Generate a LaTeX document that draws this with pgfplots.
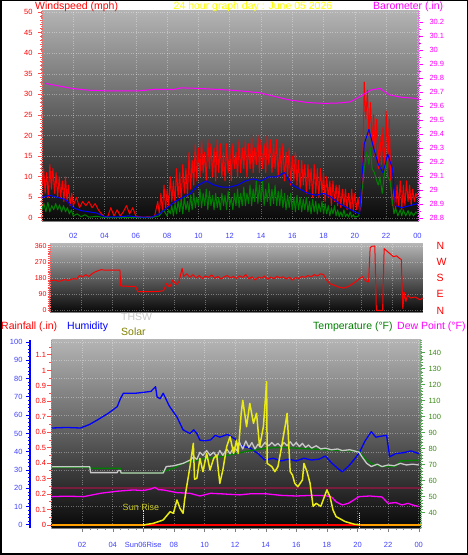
\documentclass[border=0pt]{standalone}
\usepackage{fontspec}
\setmainfont{Liberation Sans}
\usepackage{pgfplots}
\pgfplotsset{compat=1.18}
\definecolor{cRed}{RGB}{255,0,0}
\definecolor{cBlue}{RGB}{0,0,255}
\definecolor{cGreen}{RGB}{0,128,0}
\definecolor{cMag}{RGB}{255,0,255}
\definecolor{cTick}{RGB}{64,64,255}
\definecolor{cYel}{RGB}{255,255,0}
\definecolor{cSolar}{RGB}{235,235,20}
\definecolor{cSunTxt}{RGB}{200,200,40}
\definecolor{cOlive}{RGB}{128,128,0}
\definecolor{cThsw}{RGB}{200,200,200}
\definecolor{cOrange}{RGB}{255,160,0}
\definecolor{cMaroon}{RGB}{120,30,60}
\definecolor{cTempLab}{RGB}{60,140,20}
\definecolor{bgTop}{RGB}{180,180,180}
\definecolor{bgBot}{RGB}{8,8,8}
\newcommand{\tickfont}{\fontsize{7.5}{8}\selectfont}
\newcommand{\titlefont}{\fontsize{10.5}{12}\selectfont}
\pgfplotsset{
  /pgf/number format/assume math mode=true,
  wpanel/.style={scale only axis, xmin=0, ticklabel style={font=\tickfont},
    tick align=outside, major tick length=4pt, minor tick length=2pt,
    scaled y ticks=false, every axis plot/.append style={line join=round}},
  wbg/.style={axis background/.style={shade, top color=bgTop, bottom color=bgBot},
    grid=major, grid style={white, opacity=0.35, dotted, line width=0.5pt}},
}
\begin{document}
\begin{tikzpicture}
\useasboundingbox (0,0) rectangle (468pt,555pt);
\fill[white] (0,0) rectangle (468pt,555pt);

% ---------------- TOP PANEL: wind speed ----------------
\begin{axis}[wpanel, wbg, at={(42pt,334pt)}, anchor=south west,
  width=377pt, height=211pt, xmax=24.1, ymin=-0.73, ymax=50.49,
  axis x line*=bottom, axis y line*=left,
  x axis line style={draw=gray},
  y axis line style={draw=red!60!white, densely dotted, line width=1.2pt},
  xtick={2,4,...,24}, xticklabels={02,04,06,08,10,12,14,16,18,20,22,00},
  xticklabel style={cTick, yshift=-5pt}, x tick style={draw=none},
  ytick={0,5,...,50}, yticklabel style={red, xshift=-2pt},
  y tick style={draw=red!70!white, line width=1pt}, minor y tick num=4]
\addplot[cRed, line width=1pt] coordinates {(0,8)(0.1,12)(0.2,6)(0.3,11)(0.4,5)(0.5,13)(0.6,7)(0.7,12)(0.8,6)(0.9,11)(1.0,5)(1.1,10)(1.2,5)(1.3,9)(1.4,4)(1.5,10)(1.6,4)(1.7,8)(1.8,3)(1.9,6)(2.0,3)(2.2,5)(2.4,2.5)(2.6,4)(2.8,3)(3.0,4)(3.2,2.5)(3.4,3.5)(3.6,2)(3.8,1)(4.0,0.3)(4.2,0.3)(4.4,2.5)(4.6,0.5)(4.8,2)(5.0,0.5)(5.2,1.5)(5.4,3)(5.6,1)(5.8,2.5)(6.0,0.5)(6.2,0.3)(6.4,0.2)(6.6,0.2)(6.8,0.3)(7.0,0.2)(7.2,0.5)
(7.4,4)(7.5,1)(7.6,6)(7.7,1.5)(7.8,8)(7.9,2)(8.0,7)(8.1,3)(8.2,10)(8.3,4)(8.4,9)(8.5,3.5)(8.6,12)(8.7,5)(8.8,11)(8.9,4)(9.0,13)(9.1,6)(9.2,12)(9.3,5)(9.4,16)(9.5,7)(9.6,14)(9.7,8)(9.8,18)(9.9,9)(10.0,17)(10.1,10)(10.2,19)(10.3,11)(10.4,16)(10.5,9)(10.6,19)(10.7,12)(10.8,18)(10.9,10)(11.0,17)(11.1,9)(11.2,19)(11.3,11)(11.4,18)(11.5,10)(11.6,16)(11.7,9)(11.8,18)(11.9,11)(12.0,17)(12.1,9)(12.2,18)(12.3,12)(12.4,16)(12.5,10)(12.6,19)(12.7,11)(12.8,17)(12.9,12)(13.0,19)(13.1,10)(13.2,18)(13.3,12)(13.4,20)(13.5,11)(13.6,17)(13.7,13)(13.8,20)(13.9,11)(14.0,19)(14.1,12)(14.2,18)(14.3,11)(14.4,20)(14.5,13)(14.6,19)(14.7,11)(14.8,18)(14.9,12)(15.0,19)(15.1,10)(15.2,17)(15.3,11)(15.4,18)(15.5,9)(15.6,16)(15.7,10)(15.8,17)(15.9,8)(16.0,15)(16.1,9)(16.2,16)(16.3,8)(16.4,14)(16.5,7)(16.6,14)(16.7,8)(16.8,13)(16.9,6)(17.0,13)(17.1,7)(17.2,12)(17.3,5)(17.4,13)(17.5,6)(17.6,12)(17.7,5)(17.8,12)(17.9,6)(18.0,11)(18.1,4)(18.2,10)(18.3,5)(18.4,9)(18.5,3)(18.6,9)(18.7,4)(18.8,8)(18.9,3)(19.0,8)(19.1,2.5)(19.2,7)(19.3,3)(19.4,7)(19.5,2)(19.6,6)(19.7,2)(19.8,7)(19.9,1.5)(20.0,6)(20.1,2)(20.2,5)(20.3,1.5)(20.4,3)
(20.5,10)(20.6,33)(20.7,24)(20.8,31)(20.9,20)(21.0,28)(21.1,18)(21.2,25)(21.3,15)(21.4,24)(21.5,12)(21.6,20)(21.7,13)(21.8,22)(21.9,11)(22.0,26)(22.1,12)(22.2,24)(22.3,8)(22.4,3)(22.5,7)(22.6,2)(22.7,8)(22.8,3)(22.9,9)(23.0,2)(23.1,8)(23.2,3)(23.3,9)(23.4,4)(23.5,8)(23.6,3)(23.7,7)(23.8,4)(23.9,6)(24.0,5)};
\addplot[cGreen, line width=1pt] coordinates {(0,2)(0.125,3.5)(0.25,1.5)(0.375,3.8)(0.5,1.5)(0.625,3)(0.75,2)(0.875,3.5)(1,2)(1.125,3.2)(1.25,1.5)(1.375,3)(1.5,1.5)(1.625,2.5)(1.75,1)(1.875,2)(2,0.5)(2.25,1)(2.5,0.3)(2.75,0.8)(3,0.2)(3.5,0.4)(4,0.1)(5,0.1)(6,0.1)(7,0.1)(7.5,0.5)(7.75,2)
(8.0,0.5)(8.1,2)(8.2,1)(8.3,3)(8.4,0.5)(8.5,3.5)(8.6,1)(8.7,4)(8.8,1.5)(8.9,4.5)(9.0,1)(9.1,5)(9.2,2)(9.3,4)(9.4,1.5)(9.5,5.5)(9.6,2)(9.7,6)(9.8,2.5)(9.9,5)(10.0,3)(10.1,7)(10.2,2.5)(10.3,6)(10.4,3)(10.5,7)(10.6,2)(10.7,6.5)(10.8,3)(10.9,5.5)(11.0,2)(11.1,6)(11.2,2.5)(11.3,5)(11.4,2)(11.5,6)(11.6,3)(11.7,5.5)(11.8,2)(11.9,6.5)(12.0,3)(12.1,5)(12.2,2)(12.3,6)(12.4,3)(12.5,7)(12.6,2.5)(12.7,6)(12.8,3)(12.9,7.5)(13.0,3)(13.1,6)(13.2,3.5)(13.3,8)(13.4,3)(13.5,7)(13.6,4)(13.7,9)(13.8,3.5)(13.9,8)(14.0,4)(14.1,9)(14.2,3)(14.3,7)(14.4,4)(14.5,8.5)(14.6,3)(14.7,7)(14.8,3.5)(14.9,8)(15.0,3)(15.1,6.5)(15.2,3)(15.3,7)(15.4,2.5)(15.5,6)(15.6,2)(15.7,5.5)(15.8,2.5)(15.9,6)(16.0,2)(16.1,5)(16.2,1.5)(16.3,5.5)(16.4,2)(16.5,5)(16.6,1.5)(16.7,4.5)(16.8,2)(16.9,5)(17.0,1.5)(17.1,4)(17.2,1)(17.3,4.5)(17.4,1.5)(17.5,4)(17.6,1)(17.7,3.5)(17.8,1.5)(17.9,4)(18.0,1)(18.1,3.5)(18.2,1)(18.3,3)(18.4,0.5)(18.5,2.5)(18.6,1)(18.7,3)(18.8,0.5)(18.9,2)(19.0,0.3)(19.1,1.5)(19.2,0.3)(19.3,2)(19.4,0.3)(19.5,1)(19.6,0.2)(19.7,1.5)(19.8,0.2)(19.9,0.8)(20.0,0.2)(20.25,0.5)
(20.5,8)(20.6,12)(20.75,16)(20.9,13)(21,17)(21.1,12)(21.25,11)(21.4,9)(21.5,8)(21.6,10)(21.75,6)(21.9,11)(22,14)(22.1,10)(22.25,9)(22.4,4)(22.5,1)(22.6,2.5)(22.75,0.5)(22.9,2)(23,0.5)(23.1,2)(23.25,0.5)(23.4,1.8)(23.5,0.5)(23.6,1.5)(23.75,0.5)(23.9,1.5)(24,1)};
\addplot[cBlue, line width=1pt] coordinates {(0,5)(0.5,5.5)(1,5)(1.5,4.5)(2,2.5)(2.5,1.8)(3,1.5)(3.5,1.2)(4,0.3)(4.5,0.3)(5,0.3)(5.5,0.5)(6,0.3)(6.5,0.2)(7,0.2)(7.5,1)(8,2.5)(8.5,4)(9,5)(9.5,6)(10,8)(10.5,9)(11,8)(11.5,7.5)(12,7.5)(12.5,8)(13,9)(13.5,9.5)(14,9)(14.5,10)(15,10)(15.5,11)(16,8)(16.5,7)(17,6)(17.5,5.5)(18,6)(18.5,5)(19,3.5)(19.5,2.5)(20,1.5)(20.3,1)(20.6,18)(20.9,21.5)(21.2,17)(21.5,13)(21.8,11)(22.1,15.5)(22.4,12)(22.6,3)(23,2.5)(23.5,3)(24,3.5)};
\end{axis}

% ---------------- TOP PANEL: barometer ----------------
\begin{axis}[wpanel, at={(42pt,334pt)}, anchor=south west,
  width=377pt, height=211pt, xmax=24.1, ymin=28.779, ymax=30.286,
  axis x line=none, axis y line*=right,
  y axis line style={draw=cMag!60!white, densely dotted, line width=1.2pt},
  ytick={28.8,28.9,29,29.1,29.2,29.3,29.4,29.5,29.6,29.7,29.8,29.9,30,30.1,30.2},
  yticklabel style={cMag, xshift=3pt},
  y tick style={draw=cMag, line width=1pt}, minor y tick num=1]
\addplot[cMag, line width=1pt] coordinates {(0.2,29.762)(1.0,29.745)(1.9,29.726)(3.0,29.713)(4.0,29.709)(5.0,29.709)(6.2,29.709)(7.3,29.72)(8.4,29.718)(8.9,29.73)(10.0,29.726)(11.0,29.72)(12.0,29.714)(13.0,29.705)(13.9,29.695)(15.0,29.665)(15.85,29.643)(17.0,29.625)(18.0,29.619)(19.0,29.622)(19.7,29.63)(20.5,29.679)(21.0,29.714)(21.6,29.726)(22.2,29.68)(23.0,29.662)(23.9,29.655)(24.1,29.645)};
\end{axis}

% ---------------- MIDDLE PANEL: wind direction ----------------
\begin{axis}[wpanel, wbg, at={(50pt,243pt)}, anchor=south west,
  width=373pt, height=68pt, xmax=24, ymin=-8.4, ymax=371,
  axis x line*=bottom, axis y line*=left,
  x axis line style={draw=gray}, xtick={2,4,...,24}, xticklabels={}, x tick style={draw=none},
  y axis line style={draw=red!60!white, densely dotted, line width=1.2pt},
  ytick={0,90,180,270,360}, yticklabel style={red, font=\fontsize{7}{8}\selectfont, xshift=2pt},
  major tick length=2pt, y tick style={draw=red!70!white, line width=1pt}, minor y tick num=8]
\addplot[cRed, line width=1pt] coordinates {(0,165)(0.3,170)(0.6,162)(0.9,172)(1.2,168)(1.5,178)(1.7,175)(1.9,195)(2.1,188)(2.3,200)(2.5,190)(2.7,205)(2.9,215)(3.1,222)(3.3,228)(3.5,225)(3.8,225)(4.1,225)(4.5,225)(4.55,137)(5.0,135)(5.5,135)(5.65,105)(6.0,105)(6.5,105)(7.0,107)(7.3,110)(7.5,150)(7.7,130)(7.9,170)(8.1,145)(8.3,160)(8.5,235)(8.6,190)(8.8,205)(9.0,185)(9.2,200)(9.4,182)(9.6,195)(9.8,178)(10.0,192)(10.2,185)(10.4,198)(10.6,180)(10.8,190)(11.0,176)(11.2,188)(11.4,195)(11.6,182)(11.8,190)(12.0,178)(12.2,194)(12.4,184)(12.6,200)(12.8,176)(13.0,188)(13.2,170)(13.4,186)(13.6,180)(13.8,192)(14.0,174)(14.2,186)(14.4,178)(14.6,190)(14.8,182)(15.0,188)(15.2,176)(15.4,186)(15.6,170)(15.8,184)(16.0,178)(16.2,190)(16.4,185)(16.6,195)(16.8,188)(17.0,200)(17.2,192)(17.4,205)(17.6,200)(17.8,170)(18.0,150)(18.3,140)(18.6,130)(18.9,125)(19.2,135)(19.5,150)(19.8,170)(20.1,190)(20.3,165)(20.5,160)(20.6,350)(20.7,358)(20.9,360)(21.0,0)(21.4,0)(21.5,345)(21.7,330)(21.9,315)(22.1,300)(22.3,305)(22.5,290)(22.6,285)(22.7,10)(22.8,100)(22.9,50)(23.0,85)(23.2,70)(23.5,75)(23.8,60)(24,70)};
\end{axis}
\begin{axis}[wpanel, at={(50pt,243pt)}, anchor=south west,
  width=373pt, height=68pt, xmax=24, ymin=-8.4, ymax=371,
  axis x line=none, axis y line*=right, y axis line style={draw=none},
  ytick={0,90,180,270,360}, yticklabels={N,E,S,W,N},
  yticklabel style={red, font=\titlefont, xshift=10pt}, major tick length=0pt, y tick style={draw=none}]
\addplot[draw=none] coordinates {(0,0)(24,0)};
\end{axis}

% ---------------- BOTTOM PANEL: humidity ----------------
\begin{axis}[wpanel, wbg, at={(51.5pt,27pt)}, anchor=south west,
  width=369.5pt, height=188pt, xmax=24.15, ymin=-1.64, ymax=101.1,
  axis x line*=bottom, axis y line*=left, axis y line shift=21.5pt,
  x axis line style={draw=gray},
  xtick={2,4,...,24}, xticklabels={02,04,Sun06Rise,08,10,12,14,16,18,20,22,00},
  xticklabel style={cTick, yshift=-7pt}, x tick style={draw=gray}, minor x tick num=3,
  y axis line style={draw=cBlue, line width=2pt},
  ytick={0,10,...,100}, yticklabel style={cTick},
  y tick style={draw=cBlue, line width=1pt}, minor y tick num=4]
\addplot[cBlue, line width=1.3pt] coordinates {(0,53)(1.0,53.3)(1.9,53)(2.5,55)(3.0,57.4)(3.7,61)(4.3,64.7)(4.5,69)(4.7,72)(5.5,72)(6.0,72.5)(6.5,73)(6.8,75.6)(6.9,70)(7.1,69)(7.3,72)(7.7,65)(8.2,59)(8.6,52)(9.05,50)(9.3,52)(9.5,50)(9.7,46.4)(10.0,46)(10.4,46.5)(10.7,49)(11.0,48)(11.5,49.5)(12.0,47)(12.5,43)(13.0,42)(13.5,39)(13.95,35.5)(14.5,36.5)(15.0,35)(15.5,36)(16.0,35)(16.5,36.5)(17.0,35.5)(17.5,36)(17.9,37.7)(18.3,34)(18.7,31)(19.0,29.1)(19.4,32)(19.8,36)(20.1,39.2)(20.5,46)(20.9,51)(21.2,48)(21.5,48.5)(21.9,49)(22.1,37.3)(22.5,39)(23.0,39.5)(23.5,40.5)(24,39)};
\end{axis}

% ---------------- BOTTOM PANEL: rainfall ----------------
\begin{axis}[wpanel, at={(51.5pt,27pt)}, anchor=south west,
  width=369.5pt, height=188pt, xmax=24.15, ymin=-0.019, ymax=1.197,
  axis x line=none, axis y line*=left,
  y axis line style={draw=red!60!white, densely dotted, line width=1.2pt},
  ytick={0,0.1,0.2,0.3,0.4,0.5,0.6,0.7,0.8,0.9,1,1.1,1.2},
  yticklabel style={red, xshift=2pt},
  y tick style={draw=red!70!white, line width=1pt}, minor y tick num=1]
\addplot[cOrange, line width=2pt] coordinates {(0,0)(24.15,0)};
\addplot[cRed, line width=2pt] coordinates {(6.1,0)(20.2,0)};
\end{axis}

% ---------------- BOTTOM PANEL: temperatures ----------------
\begin{axis}[wpanel, at={(51.5pt,27pt)}, anchor=south west,
  width=369.5pt, height=188pt, xmax=24.15, ymin=30.6, ymax=148.1,
  axis x line=none, axis y line*=right,
  y axis line style={draw=cGreen!60!white, densely dotted, line width=1.2pt},
  ytick={40,50,...,140}, yticklabel style={cTempLab},
  y tick style={draw=cGreen!70!white, line width=1pt}, minor y tick num=4]
\addplot[cMaroon, line width=1.5pt] coordinates {(0,55.6)(24.15,55.6)};
\addplot[cMag, line width=1.3pt] coordinates {(0,50.2)(1.0,50.5)(2.1,50.2)(3.2,52.3)(4.3,53.6)(5.35,54.4)(6.0,54)(6.5,55)(6.76,56)(7.0,54.5)(7.3,54.4)(8.2,52.7)(9.05,52.3)(9.7,50.6)(10.4,52.3)(11.2,51.9)(12.3,51.3)(13.0,52)(14.0,52)(15.0,51)(16.0,50.6)(17.0,51)(17.9,50.8)(18.3,50)(18.6,47)(19.0,45)(19.4,46)(20.1,50.2)(20.8,50.6)(21.6,50)(22.0,46)(22.5,46.5)(22.9,45)(23.3,46)(23.6,45)(24,44)};
\addplot[cGreen, line width=1.3pt] coordinates {(0,68.5)(2.5,68.5)(2.55,68)(4.5,68)(4.55,65)(7.1,65)(7.5,66.5)(8.0,68)(8.6,71)(9.0,72)(9.5,73)(10,74)(11,75)(12,77)(13,79)(14,80.5)(15,81)(16,80.5)(17,80)(17.9,79.5)(19,79)(20.1,78.5)(20.5,74)(20.9,71)(21.5,69)(22.5,69)(22.8,72.5)(24,73)};
\addplot[cThsw, line width=1.3pt] coordinates {(0,68.9)(2.5,68.9)(2.55,65.2)(4.3,65.2)(4.35,66.5)(4.5,66.5)(4.55,65)(7.3,65)(7.5,69)(8.0,69.5)(8.6,71)(9.05,73)(9.3,75)(9.5,73.5)(9.7,78)(9.9,76)(10.14,79)(10.36,76)(10.6,78)(10.8,75)(11.0,79)(11.2,76)(11.45,80)(11.67,77)(11.9,81)(12.1,79)(12.3,84)(12.5,80)(12.7,85)(12.9,81)(13.1,84)(13.3,80)(13.5,83)(13.7,81)(13.95,84)(14.2,82)(14.4,84)(14.6,82)(14.8,83.5)(15.0,81.5)(15.2,84)(15.4,82)(15.6,84.5)(15.8,82)(16.0,84)(16.2,81.5)(16.4,83.5)(16.6,81)(16.8,82.5)(17.0,80.5)(17.3,82)(17.6,80)(17.9,80.5)(18.3,79.5)(18.7,80)(19.0,79)(19.5,79.5)(20.1,78)(20.3,75)(20.6,71)(20.9,69)(21.3,70.5)(21.6,69)(22.0,70)(22.4,69.5)(22.8,71)(23.2,70)(23.6,70.5)(24,70)};
\end{axis}

% ---------------- BOTTOM PANEL: solar ----------------
\begin{axis}[wpanel, at={(51.5pt,27pt)}, anchor=south west,
  width=369.5pt, height=188pt, xmax=24.15, ymin=-19.7, ymax=1213.6,
  axis lines=none, ticks=none]
\addplot[cSolar, line width=1.5pt] coordinates {(6.0,0)(6.66,11)(7.3,33)(7.75,87)(7.97,77)(8.2,164)(8.4,109)(8.6,77)(8.7,164)(8.8,230)(9.05,383)(9.27,536)(9.35,300)(9.5,306)(9.7,437)(9.9,350)(10.14,470)(10.36,361)(10.6,437)(10.8,459)(11.0,273)(11.2,361)(11.45,514)(11.67,579)(11.9,470)(12.1,557)(12.2,470)(12.4,733)(12.5,818)(12.75,645)(12.96,798)(13.2,667)(13.4,733)(13.6,514)(13.85,645)(14.06,940)(14.1,404)(14.4,383)(14.6,350)(14.8,383)(15.0,492)(15.3,667)(15.4,733)(15.6,350)(15.75,328)(15.9,273)(16.1,251)(16.4,295)(16.5,404)(16.7,350)(16.9,273)(17.1,122)(17.3,142)(17.6,122)(18.0,230)(18.2,186)(18.4,98)(18.6,55)(19.2,22)(19.8,5)(20.2,0)};
\addplot[cYel, densely dotted, line width=1pt] coordinates {(6.0,-20)(6.0,100)};
\addplot[cYel, densely dotted, line width=1pt] coordinates {(20.1,-20)(20.1,85)};
\node[text=cSunTxt, font=\fontsize{9}{10}\selectfont] at (axis cs:5.85,118) {Sun Rise};
\end{axis}

% ---------------- titles ----------------
\node[anchor=base west, text=cRed, font=\titlefont, inner sep=0] at (35pt,545pt) {Windspeed (mph)};
\node[anchor=base, text=cYel, font=\titlefont, inner sep=0] at (253pt,545pt) {24 hour graph day : June 05 2026};
\node[anchor=base west, text=cMag, font=\titlefont, inner sep=0] at (373pt,545pt) {Barometer (.in)};
\node[anchor=base west, text=cRed, font=\titlefont, inner sep=0] at (1pt,225pt) {Rainfall (.in)};
\node[anchor=base west, text=cBlue, font=\titlefont, inner sep=0] at (67pt,225pt) {Humidity};
\node[anchor=base west, text=cThsw, font=\titlefont, inner sep=0] at (121pt,234pt) {THSW};
\node[anchor=base west, text=cOlive, font=\titlefont, inner sep=0] at (121pt,219pt) {Solar};
\node[anchor=base west, text=cGreen, font=\titlefont, inner sep=0] at (313pt,225pt) {Temperature (°F)};
\node[anchor=base west, text=cMag, font=\titlefont, inner sep=0] at (397pt,225pt) {Dew Point (°F)};

\draw[black, line width=3pt] (0,0) rectangle (468pt,555pt);
\end{tikzpicture}
\end{document}
